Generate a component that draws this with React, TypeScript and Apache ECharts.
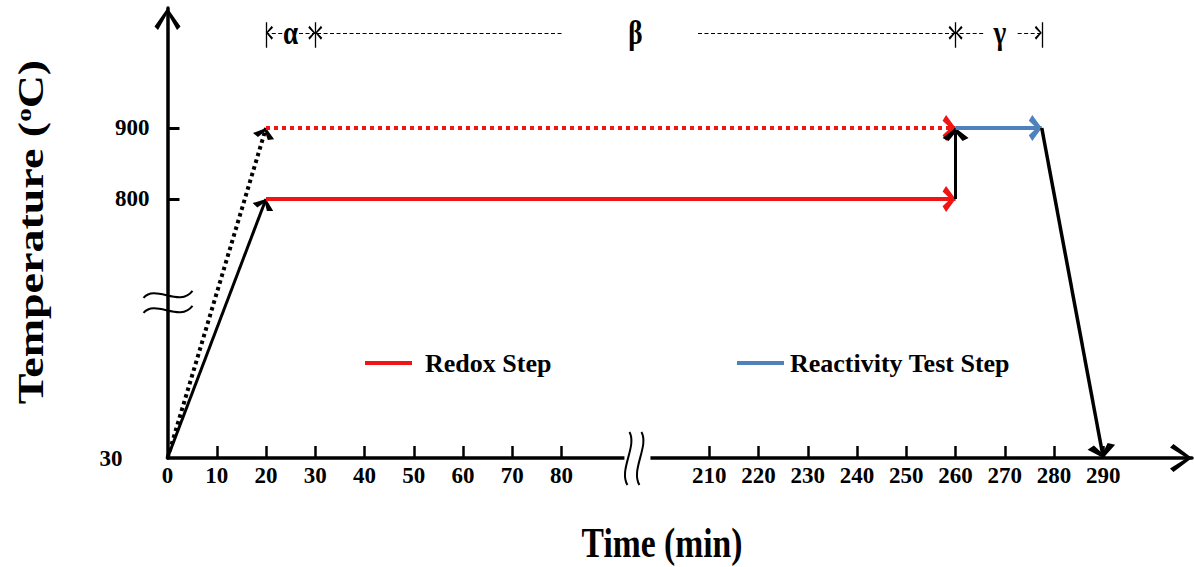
import React, { useEffect, useRef } from "react";
import * as echarts from "echarts";

// ---- data (real units: minutes, °C) ----
const X_TICK_LABELS = [0, 10, 20, 30, 40, 50, 60, 70, 80, 210, 220, 230, 240, 250, 260, 270, 280, 290];
const Y_TICK_LABELS = [30, 800, 900];

const RAMP_TIME = [0, 20];
const RAMP_REDOX_TEMP = [30, 800];
const RAMP_TEST_TEMP = [30, 900];
const REDOX_TIME = [20, 260];
const REDOX_TEMP = [800, 800];
const PRE_TEST_TIME = [20, 260];
const PRE_TEST_TEMP = [900, 900];
const HEAT_TIME = [260, 260];
const HEAT_TEMP = [800, 900];
const TEST_TIME = [260, 277.5];
const TEST_TEMP = [900, 900];
const COOL_TIME = [277.5, 290];
const COOL_TEMP = [900, 30];

const STAGE_NAMES = ["α", "β", "γ"];
const STAGE_BOUNDS = [20, 30, 260, 277.5];
const LEGEND_NAMES = ["Redox Step", "Reactivity Test Step"];

// ---- broken-axis mapping (axis units) ----
const X_BREAK_FROM = 80;
const X_BREAK_TO = 210;
const X_BREAK_GAP = 30;
const X_SHIFT = X_BREAK_TO - X_BREAK_FROM - X_BREAK_GAP; // 100
const xv = (t: number) => (t <= X_BREAK_FROM ? t : t - X_SHIFT);
const xInv = (v: number) => (v <= X_BREAK_FROM ? v : v + X_SHIFT);
const Y_BASE = 30;
const Y_SHIFT = 435;
const yv = (T: number) => (T <= Y_BASE ? 0 : T - Y_SHIFT);
const yInv = (v: number) => (v <= 0 ? Y_BASE : v + Y_SHIFT);

const X_MAX = 208;
const Y_MAX = 634;
const X_BREAK_AT = 94.8;
const Y_BREAK_AT = 220;

// annotation layout (axis units)
const ANNOT_Y = 599;
const BAR_Y = [578, 614];
const STAGE_LABEL_X = [xv(25), 95, xv(269)];
const ANNOT_DASHES = [
  [xv(23.3), xv(STAGE_BOUNDS[0])],
  [xv(26.7), xv(STAGE_BOUNDS[1])],
  [xv(80), xv(STAGE_BOUNDS[1])],
  [107.7, xv(STAGE_BOUNDS[2])],
  [xv(265.6), xv(STAGE_BOUNDS[2])],
  [xv(272.6), xv(STAGE_BOUNDS[3])],
];

const RED = "#f01414";
const BLUE = "#4f81bd";
const BLACK = "#000";
const FONT = '"Liberation Serif", "Times New Roman", serif';

const chevron = (W: number, L: number, th: number) => {
  const h = W / 2;
  return (
    `path://M${h},0L${h + 0.01},0Z` +
    `M${h},${L}L${W},${2 * L - th}L${W - th},${2 * L}L${h},${L + th * 1.5}L${th},${2 * L}L0,${2 * L - th}Z`
  );
};

const seg = (times: number[], temps: number[]) => [
  [xv(times[0]), yv(temps[0])],
  [xv(times[1]), yv(temps[1])],
];

const arrowLines = (
  name: string,
  data: any[],
  color: string,
  width: number,
  type: any,
  arrow: [number, number, number] | null,
  z = 2
) => ({
  type: "lines",
  name,
  coordinateSystem: "cartesian2d",
  data: data.map((coords) => ({ coords })),
  lineStyle: { color, width, type, opacity: 1, curveness: 0, cap: "butt" },
  symbol: arrow ? ["none", chevron(arrow[0], arrow[1], arrow[2])] : "none",
  symbolSize: arrow ? [arrow[0], arrow[1] * 2] : 0,
  silent: true,
  z,
});

export default function App() {
  const ref = useRef<HTMLDivElement>(null);
  useEffect(() => {
    document.body.style.margin = "0";
    const chart = echarts.init(ref.current!, null, { renderer: "svg" });

    const wave = (x0: number, y0: number, pts: number[]) => ({
      type: "bezierCurve",
      shape: {
        x1: x0 + pts[0], y1: y0 + pts[1],
        cpx1: x0 + pts[2], cpy1: y0 + pts[3],
        cpx2: x0 + pts[4], cpy2: y0 + pts[5],
        x2: x0 + pts[6], y2: y0 + pts[7],
      },
      style: { stroke: BLACK, lineWidth: 2, fill: "none" },
    });

    const legendText = { fontFamily: FONT, fontWeight: "bold", fontSize: 26, color: BLACK };

    const option: any = {
      animation: false,
      textStyle: { fontFamily: FONT },
      grid: { left: 167.5, right: 2, top: 8, bottom: 109, containLabel: false, outerBoundsMode: "none" },
      xAxis: {
        type: "value",
        min: 0,
        max: X_MAX,
        splitLine: { show: false },
        axisLine: {
          show: true,
          onZero: false,
          lineStyle: { color: BLACK, width: 3.5 },
          symbol: ["none", chevron(28, 22, 3.5)],
          symbolSize: [28, 44],
        },
        axisTick: {
          show: true,
          inside: true,
          length: 12,
          lineStyle: { color: BLACK, width: 2.5 },
          customValues: X_TICK_LABELS.filter((t) => t > 0).map(xv),
        },
        axisLabel: {
          customValues: X_TICK_LABELS.map(xv),
          formatter: (v: number) => String(Math.round(xInv(v))),
          margin: 6,
          color: BLACK,
          fontFamily: FONT,
          fontWeight: "bold",
          fontSize: 23,
        },
      },
      yAxis: {
        type: "value",
        min: 0,
        max: Y_MAX,
        splitLine: { show: false },
        axisLine: {
          show: true,
          onZero: false,
          lineStyle: { color: BLACK, width: 3.5 },
          symbol: ["none", chevron(26, 22, 3.5)],
          symbolSize: [26, 44],
        },
        axisTick: {
          show: true,
          inside: true,
          length: 12,
          lineStyle: { color: BLACK, width: 3 },
          customValues: Y_TICK_LABELS.filter((T) => T > Y_BASE).map(yv),
        },
        axisLabel: {
          customValues: Y_TICK_LABELS.map(yv),
          formatter: (v: number) => {
            const T = Math.round(yInv(v));
            return T === Y_BASE ? `{b|${T}}` : String(T);
          },
          margin: 18,
          color: BLACK,
          fontFamily: FONT,
          fontWeight: "bold",
          fontSize: 23,
          rich: {
            b: { fontFamily: FONT, fontWeight: "bold", fontSize: 23, color: BLACK, padding: [0, 27, 0, 0] },
          },
        },
      },
      legend: [
        {
          left: 365,
          top: 350,
          padding: 0,
          selectedMode: false,
          itemWidth: 47,
          itemHeight: 4,
          textStyle: { ...legendText, padding: [0, 0, 0, 8] },
          data: [{ name: LEGEND_NAMES[0], icon: "rect", itemStyle: { color: RED, borderWidth: 0 } }],
        },
        {
          left: 737,
          top: 350,
          padding: 0,
          selectedMode: false,
          itemWidth: 47,
          itemHeight: 4,
          textStyle: { ...legendText, padding: [0, 0, 0, 1] },
          data: [{ name: LEGEND_NAMES[1], icon: "rect", itemStyle: { color: BLUE, borderWidth: 0 } }],
        },
      ],
      graphic: [
        {
          type: "text",
          x: 662,
          y: 543,
          scaleX: 0.8,
          style: {
            text: "Time (min)",
            font: `bold 42px ${FONT}`,
            fill: BLACK,
            align: "center",
            verticalAlign: "middle",
          },
        },
        {
          type: "text",
          x: 31,
          y: 232,
          rotation: Math.PI / 2,
          scaleY: 0.8,
          style: {
            text: "{n|Temperature (}{s|o}{n|C)}",
            align: "center",
            verticalAlign: "middle",
            rich: {
              n: { font: `bold 46px ${FONT}`, fill: BLACK },
              s: { font: `bold 27px ${FONT}`, fill: BLACK, padding: [0, 0, 20, 0] },
            },
          },
        },
      ],
      series: [
        arrowLines("ramp-test", [seg(RAMP_TIME, RAMP_TEST_TEMP)], BLACK, 4, [3.5, 3.5], [9, 11, 2.4]),
        arrowLines("ramp-redox", [seg(RAMP_TIME, RAMP_REDOX_TEMP)], BLACK, 3, "solid", [9, 11, 2.4]),
        arrowLines("pre-test", [seg(PRE_TEST_TIME, PRE_TEST_TEMP)], RED, 4, [4, 4], [16, 13, 3.5]),
        arrowLines(LEGEND_NAMES[0], [seg(REDOX_TIME, REDOX_TEMP)], RED, 4, "solid", [16, 13, 3.5]),
        arrowLines("heat", [seg(HEAT_TIME, HEAT_TEMP)], BLACK, 3, "solid", [13, 13, 3]),
        arrowLines(LEGEND_NAMES[1], [seg(TEST_TIME, TEST_TEMP)], BLUE, 4, "solid", [16, 13, 3.5]),
        arrowLines("cool", [seg(COOL_TIME, COOL_TEMP)], BLACK, 3.5, "solid", [12, 14, 3]),
        arrowLines(
          "stage-bars",
          STAGE_BOUNDS.map((t) => [
            [xv(t), BAR_Y[0]],
            [xv(t), BAR_Y[1]],
          ]),
          BLACK,
          1.3,
          "solid",
          null
        ),
        arrowLines(
          "stage-dashes",
          ANNOT_DASHES.map((d) => [
            [d[0], ANNOT_Y],
            [d[1], ANNOT_Y],
          ]),
          BLACK,
          1.1,
          [4, 2.5],
          [9, 7, 1.3]
        ),
        {
          type: "custom",
          name: "stage-labels",
          coordinateSystem: "cartesian2d",
          clip: false,
          silent: true,
          z: 5,
          data: STAGE_LABEL_X.map((x, i) => [x, ANNOT_Y, i]),
          renderItem: (params: any, api: any) => {
            const p = api.coord([api.value(0), api.value(1)]);
            return {
              type: "text",
              x: p[0],
              y: p[1],
              scaleX: 0.8,
              style: {
                text: STAGE_NAMES[api.value(2)],
                font: `bold 34px ${FONT}`,
                fill: BLACK,
                align: "center",
                verticalAlign: "middle",
              },
            };
          },
        },
        {
          type: "custom",
          name: "x-break",
          coordinateSystem: "cartesian2d",
          clip: false,
          silent: true,
          z: 5,
          data: [[X_BREAK_AT, 0]],
          renderItem: (params: any, api: any) => {
            const p = api.coord([api.value(0), api.value(1)]);
            const cx = p[0];
            const cy = p[1];
            return {
              type: "group",
              children: [
                { type: "rect", shape: { x: cx - 10, y: cy - 4, width: 26, height: 8 }, style: { fill: "#fff" } },
                wave(cx - 6, cy, [1, -26, 9, -12, -10, 12, -1, 27]),
                wave(cx + 6, cy, [1, -26, 9, -12, -10, 12, -1, 27]),
              ],
            };
          },
        },
        {
          type: "custom",
          name: "y-break",
          coordinateSystem: "cartesian2d",
          clip: false,
          silent: true,
          z: 5,
          data: [[0, Y_BREAK_AT]],
          renderItem: (params: any, api: any) => {
            const p = api.coord([api.value(0), api.value(1)]);
            const cx = p[0];
            const cy = p[1];
            return {
              type: "group",
              children: [
                wave(cx, cy - 7, [-24, 3, -12, -11, 12, 13, 25, -4]),
                wave(cx, cy + 8, [-24, 3, -12, -11, 12, 13, 25, -4]),
              ],
            };
          },
        },
      ],
    };
    chart.setOption(option);
    return () => chart.dispose();
  }, []);
  return <div ref={ref} style={{ width: 1194, height: 567 }} />;
}
